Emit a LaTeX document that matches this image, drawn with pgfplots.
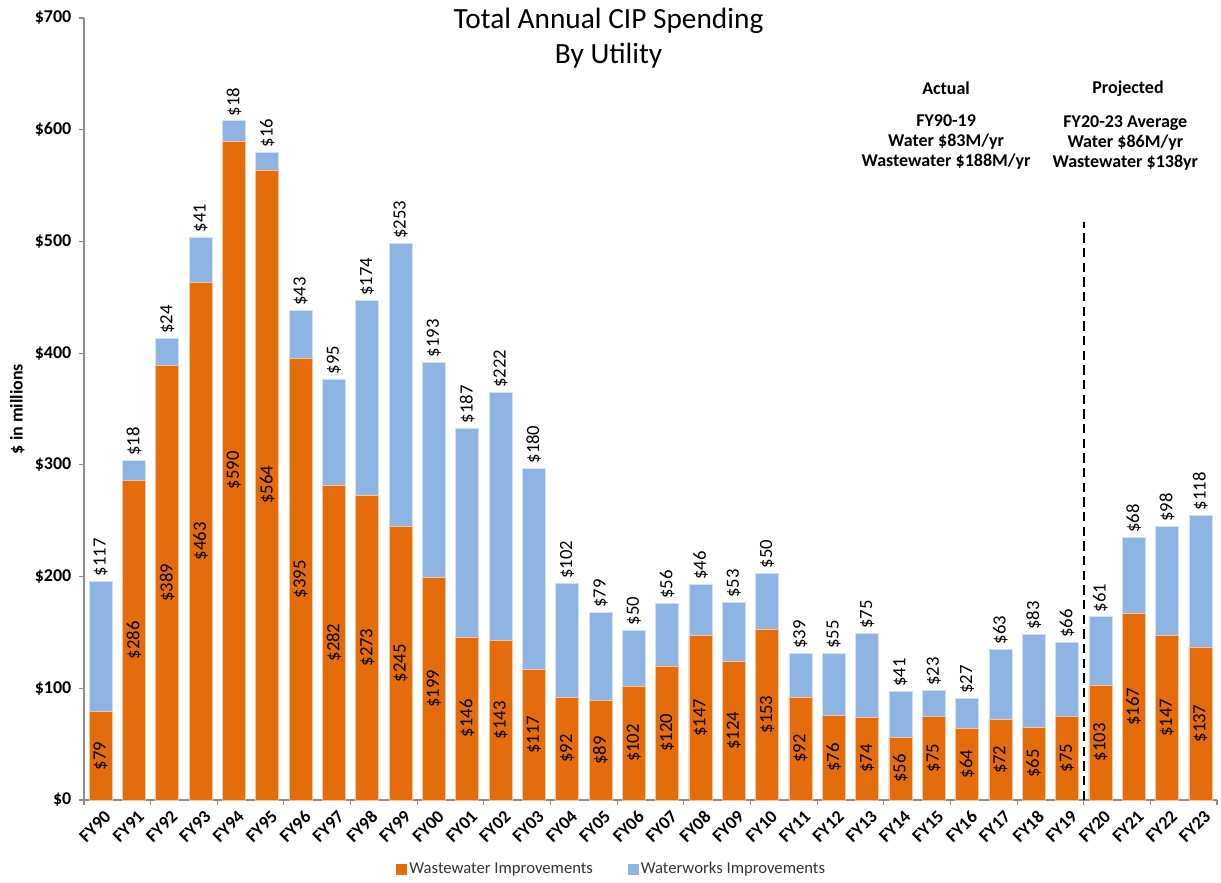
\documentclass[border=0pt]{standalone}
\usepackage{pgfplots}
\pgfplotsset{compat=1.18}
\usepackage{pgfplotstable}
\usepackage{fontspec}
\setmainfont{Carlito}
\definecolor{wwc}{HTML}{E46C0A}
\definecolor{wtc}{HTML}{8DB4E2}
\pgfplotstableread{
x ww wt
0 79 117
1 286 18
2 389 24
3 463 41
4 590 18
5 564 16
6 395 43
7 282 95
8 273 174
9 245 253
10 199 193
11 146 187
12 143 222
13 117 180
14 92 102
15 89 79
16 102 50
17 120 56
18 147 46
19 124 53
20 153 50
21 92 39
22 76 55
23 74 75
24 56 41
25 75 23
26 64 27
27 72 63
28 65 83
29 75 66
30 103 61
31 167 68
32 147 98
33 137 118
}\datatable
\begin{document}
\begin{tikzpicture}
\useasboundingbox (-63pt,-61.5pt) rectangle (852.75pt,600pt);
\begin{axis}[
  at={(0,0)}, anchor=south west,
  scale only axis, width=849.75pt, height=586.5pt,
  xmin=-0.5, xmax=33.5, ymin=0, ymax=700,
  enlargelimits=false, clip=false,
  axis x line=bottom, axis y line=left,
  axis line style={-, black!45, line width=0.8pt},
  tick align=outside,
  /pgf/number format/assume math mode=true,
  ytick={0,100,...,700},
  yticklabel={\$\pgfmathprintnumber{\tick}},
  y tick label style={font=\bfseries\fontsize{13.5}{13.5}\selectfont, black, xshift=-2pt},
  ytick style={black!45, line width=0.8pt},
  major tick length=4pt,
  xtick={-0.5,1.5,...,33.5},
  xticklabels={},
  xtick style={black!45, line width=0.8pt},
  extra x ticks={0,1,...,33},
  extra x tick labels={FY90,FY91,FY92,FY93,FY94,FY95,FY96,FY97,FY98,FY99,FY00,FY01,FY02,FY03,FY04,FY05,FY06,FY07,FY08,FY09,FY10,FY11,FY12,FY13,FY14,FY15,FY16,FY17,FY18,FY19,FY20,FY21,FY22,FY23},
  extra x tick style={major tick length=0pt, grid=none,
    tick label style={rotate=45, anchor=north east, font=\bfseries\fontsize{13.5}{13.5}\selectfont, black, yshift=-3pt}},
  ylabel={\$ in millions},
  ylabel style={at={(axis description cs:-0.059,0.5)}, anchor=center, font=\bfseries\fontsize{13.5}{14}\selectfont},
  legend style={at={(axis description cs:0.466,-0.088)}, anchor=center, draw=none, fill=none,
    legend columns=2, font=\fontsize{12.5}{14}\selectfont, text=black!80,
    /tikz/every even column/.append style={column sep=24pt}},
  legend cell align=left,
]
\addlegendimage{legend image code/.code={\fill[wwc] (0pt,-3.75pt) rectangle (7.5pt,3.75pt);}}
\addlegendentry{Wastewater Improvements}
\addlegendimage{legend image code/.code={\fill[wtc] (0pt,-3.75pt) rectangle (7.5pt,3.75pt);}}
\addlegendentry{Waterworks Improvements}

\addplot[forget plot, ybar, bar width=0.69, bar shift=0pt, fill=wtc, draw=white!60!wtc, line width=0.5pt,
  point meta=explicit,
  nodes near coords={\$\pgfmathprintnumber{\pgfplotspointmeta}},
  every node near coord/.style={rotate=90, anchor=west, font=\fontsize{14}{14}\selectfont, black}]
  table[x=x, y expr=\thisrow{ww}+\thisrow{wt}, meta=wt] {\datatable};
\addplot[forget plot, ybar, bar width=0.69, bar shift=0pt, fill=wwc, draw=white!60!wwc, line width=0.5pt]
  table[x=x, y=ww] {\datatable};
\addplot[forget plot, draw=none, mark=none,
  point meta=explicit,
  nodes near coords={\$\pgfmathprintnumber{\pgfplotspointmeta}},
  every node near coord/.style={rotate=90, anchor=center, font=\fontsize{14}{14}\selectfont, black}]
  table[x=x, y expr=\thisrow{ww}/2, meta=ww] {\datatable};

\addplot[forget plot, black, line width=1.6pt, dash pattern=on 7pt off 4pt]
  coordinates {(29.5,0) (29.5,517)};

\node[font=\fontsize{22}{26}\selectfont, align=center] at (rel axis cs:0.463,0.974)
  {Total Annual CIP Spending\\By Utility};
\node[font=\bfseries\fontsize{13.5}{15}\selectfont] at (axis cs:25.37,637.3) {Actual};
\node[font=\bfseries\fontsize{13.5}{15}\selectfont, align=center] at (axis cs:25.37,589)
  {FY90-19\\Water \$83M/yr\\Wastewater \$188M/yr};
\node[font=\bfseries\fontsize{13.5}{15}\selectfont] at (axis cs:30.83,636.4) {Projected};
\node[font=\bfseries\fontsize{13.5}{15}\selectfont, align=center] at (axis cs:30.75,588.1)
  {FY20-23 Average\\Water \$86M/yr\\Wastewater \$138yr};
\end{axis}
\end{tikzpicture}
\end{document}
